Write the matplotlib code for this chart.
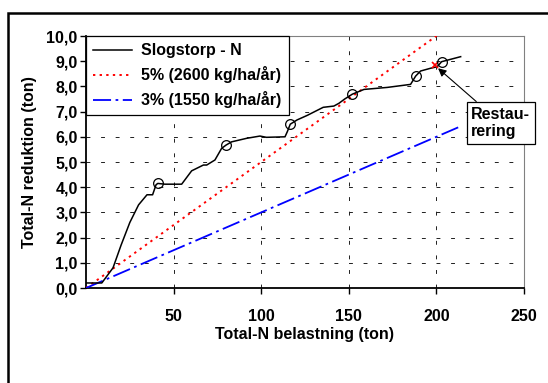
import matplotlib
matplotlib.use("Agg")
import matplotlib.pyplot as plt
from matplotlib.patches import Rectangle
from matplotlib.ticker import FuncFormatter

plt.rcParams['font.family'] = ['Liberation Sans', 'DejaVu Sans']
plt.rcParams['font.weight'] = 'bold'

# Slogstorp - N measured curve
slog_x = [0, 9, 15.4, 20, 25, 30, 34.8, 38, 40, 41, 45, 54.6, 60.3, 67, 68.9, 73.6, 77.4, 79.9,
          83.1, 91.7, 99.3, 103, 113.6, 114.9, 116.6, 120.5, 126.3, 135.4, 141.5, 144.4, 147.7,
          152, 158.7, 172, 185.3, 186.8, 188.2, 191, 196.7, 200.5, 203, 213.9]
slog_y = [0.2, 0.2, 0.8, 1.7, 2.6, 3.3, 3.7, 3.7, 4.1, 4.15, 4.12, 4.12, 4.65, 4.88, 4.88, 5.08,
          5.54, 5.67, 5.8, 5.94, 6.03, 5.98, 6.0, 6.2, 6.5, 6.67, 6.85, 7.17, 7.22, 7.33, 7.5,
          7.69, 7.88, 7.96, 8.08, 8.25, 8.41, 8.61, 8.72, 8.78, 8.98, 9.18]
# restoration points (circles)
rest_x = [41, 79.9, 116.6, 152, 188.2, 203]
rest_y = [4.15, 5.67, 6.5, 7.69, 8.41, 8.98]

# reference lines: 5 % and 3 %
line5_x = [0, 204]
line5_y = [0.0, 10.2]
line3_x = [0, 213]
line3_y = [0.0, 6.39]

labels = ["Slogstorp - N", "5% (2600 kg/ha/år)", "3% (1550 kg/ha/år)"]
xticks = [50, 100, 150, 200, 250]
yticks = [0, 1, 2, 3, 4, 5, 6, 7, 8, 9, 10]

FS = 11.5

fig = plt.figure(figsize=(5.48, 3.83), dpi=100)
ax = fig.add_axes([0.157, 0.248, 0.799, 0.658])

# outer frame
fig.patches.append(Rectangle((8/548, -0.1), 1.2, (1 - 13/383) + 0.1, transform=fig.transFigure,
                             fill=False, edgecolor='black', linewidth=1.8, clip_on=False))

ax.plot(slog_x, slog_y, color='black', lw=1.1, label=labels[0], zorder=4)
ax.plot(line5_x, line5_y, color='red', lw=1.4, linestyle=(0, (1.2, 2.2)), label=labels[1], zorder=3)
ax.plot(line3_x, line3_y, color='blue', lw=1.3, linestyle=(0, (10, 2.5, 1.5, 2.5)), label=labels[2], zorder=3)
ax.plot(rest_x, rest_y, linestyle='none', marker='o', markersize=7, markerfacecolor='none',
        markeredgecolor='black', markeredgewidth=0.9, zorder=5)
ax.plot([199.2], [8.85], linestyle='none', marker='x', color='red', markersize=5, mew=1.2, zorder=4)

ax.set_xlim(0, 250)
ax.set_ylim(0, 10)
ax.set_xticks(xticks)
ax.set_yticks(yticks)
ax.yaxis.set_major_formatter(FuncFormatter(lambda v, p: f"{v:.1f}".replace('.', ',')))
ax.tick_params(axis='both', labelsize=FS, direction='out', length=4, width=1)
ax.tick_params(axis='x', pad=11)
ax.tick_params(axis='y', pad=2)

ax.grid(True, color='#202020', linestyle=(0, (4, 11)), linewidth=0.7)
for s in ['left', 'bottom']:
    ax.spines[s].set_linewidth(1.3)
    ax.spines[s].set_color('black')
for s in ['top', 'right']:
    ax.spines[s].set_linewidth(0.8)
    ax.spines[s].set_color('#808080')

ax.set_xlabel("Total-N belastning (ton)", fontsize=FS, fontweight='bold', labelpad=2)
ax.set_ylabel("Total-N reduktion (ton)", fontsize=FS, fontweight='bold', labelpad=7)

leg = ax.legend(loc='upper left', bbox_to_anchor=(0.0, 1.0), fontsize=FS, frameon=True,
                fancybox=False, edgecolor='black', framealpha=1, borderaxespad=0,
                handlelength=2.4, labelspacing=0.5, borderpad=0.45, handletextpad=0.6)
leg.get_frame().set_linewidth(0.9)

ax.annotate("Restau-\nrering", xy=(201, 8.72), xytext=(220, 6.55), fontsize=FS, fontweight='bold',
            ha='left', va='center', annotation_clip=False,
            bbox=dict(boxstyle='square,pad=0.3', fc='white', ec='black', lw=0.9),
            arrowprops=dict(arrowstyle='-|>', color='black', lw=0.8, mutation_scale=12,
                            shrinkA=0, shrinkB=0),
            zorder=6)

fig.savefig("out.png", dpi=100)
